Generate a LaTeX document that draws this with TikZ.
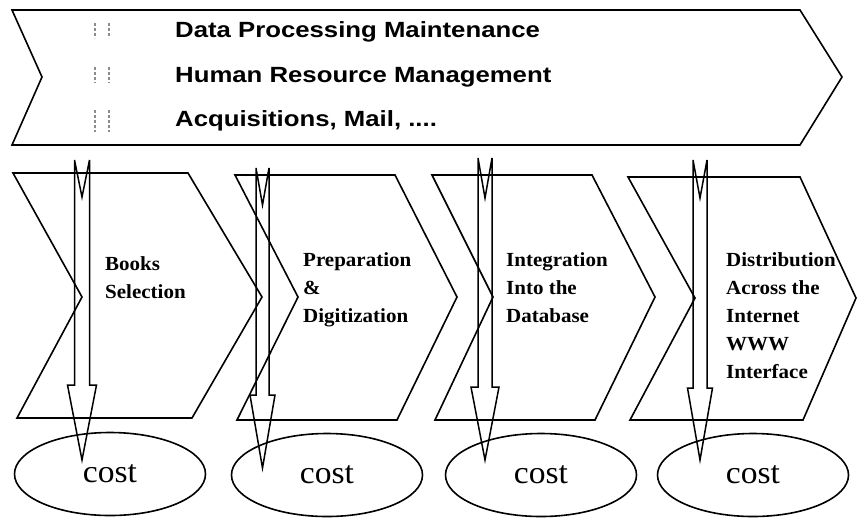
\documentclass[tikz,border=0pt]{standalone}
\usepackage{fontspec}
\setmainfont{Liberation Serif}
\newfontfamily\topfont[FakeStretch=1.17]{Liberation Sans}
\newfontfamily\labfont[FakeStretch=1.05]{Liberation Serif}
\newfontfamily\costfont[FakeStretch=1.05]{Liberation Serif}
\usetikzlibrary{shapes.geometric,calc}
\newcommand\hollowarrow[8]{%
  \coordinate (#1top) at (#2,#3);
  \coordinate (#1tip) at (#2,#6);
  \draw[arrowline] (#2-#7,#3) -- (#2-#7,#5) -- (#2-#8,#5) -- (#1tip)
     -- (#2+#8,#5) -- (#2+#7,#5) -- (#2+#7,#3) -- (#2,#4) -- cycle;}
\begin{document}
\begin{tikzpicture}[x=1pt,y=-1pt,
  shapeline/.style={draw=black,line width=1.6pt,line join=miter},
  arrowline/.style={draw=black,line width=1.5pt,line join=miter},
  bulletmark/.style={draw=black!45,line width=1.1pt,dash pattern=on 3pt off 2pt},
  toptext/.style={anchor=base west,inner sep=0pt,font=\topfont\bfseries\fontsize{22}{22}\selectfont},
  steplabel/.style={anchor=base west,inner sep=0pt,align=left,font=\labfont\bfseries\fontsize{20}{28}\selectfont},
  costell/.style={draw=black,line width=1.6pt,ellipse,minimum width=191pt,minimum height=83pt,inner sep=0pt,font=\costfont\fontsize{32}{32}\selectfont}]
\useasboundingbox (0,0) rectangle (858,517);
% top chevron
\draw[shapeline] (12,10) -- (800,10) -- (842,77) -- (800,145) -- (12,145) -- (42,77) -- cycle;
\foreach \ya/\yb in {23/38,67/83,110/132}{
  \draw[bulletmark] (95,\ya) -- (95,\yb);
  \draw[bulletmark] (109,\ya) -- (109,\yb);}
\node[toptext] (t1) at (175,37) {Data Processing Maintenance};
\node[toptext] (t2) at (175,82) {Human Resource Management};
\node[toptext] (t3) at (175,126) {Acquisitions, Mail, ....};
% step chevrons
\draw[shapeline] (13,173) -- (188,173) -- (262,297) -- (192,418) -- (17,418) -- (82,297) -- cycle;
\draw[shapeline] (235,175) -- (395,175) -- (457,297) -- (397,420) -- (237,420) -- (298,297) -- cycle;
\draw[shapeline] (432,175) -- (592,175) -- (655,297) -- (595,420) -- (435,420) -- (493,297) -- cycle;
\draw[shapeline] (628,177) -- (800,177) -- (856,298) -- (803,420) -- (630,420) -- (695,298) -- cycle;
% labels (anchored at the baseline of their last line)
\node[steplabel] (s1) at (105,298) {Books\\Selection};
\node[steplabel] (s2) at (303,322) {Preparation\\\&\\Digitization};
\node[steplabel] (s3) at (506,322) {Integration\\Into the\\Database};
\node[steplabel] (s4) at (726,378) {Distribution\\Across the\\Internet\\WWW\\Interface};
% cost ellipses
\node[costell] (c1) at (110,474) {cost};
\node[costell] (c2) at (327,475) {cost};
\node[costell] (c3) at (541,475) {cost};
\node[costell] (c4) at (753,475) {cost};
% hollow arrows
\hollowarrow{a1}{82}{160}{197}{385}{460}{7.5}{14.5}
\hollowarrow{a2}{262.5}{168}{205}{395}{468}{6.5}{12.5}
\hollowarrow{a3}{485}{158}{198}{387}{460}{7}{14}
\hollowarrow{a4}{700}{160}{198}{388}{460}{7}{12.5}
\end{tikzpicture}
\end{document}
